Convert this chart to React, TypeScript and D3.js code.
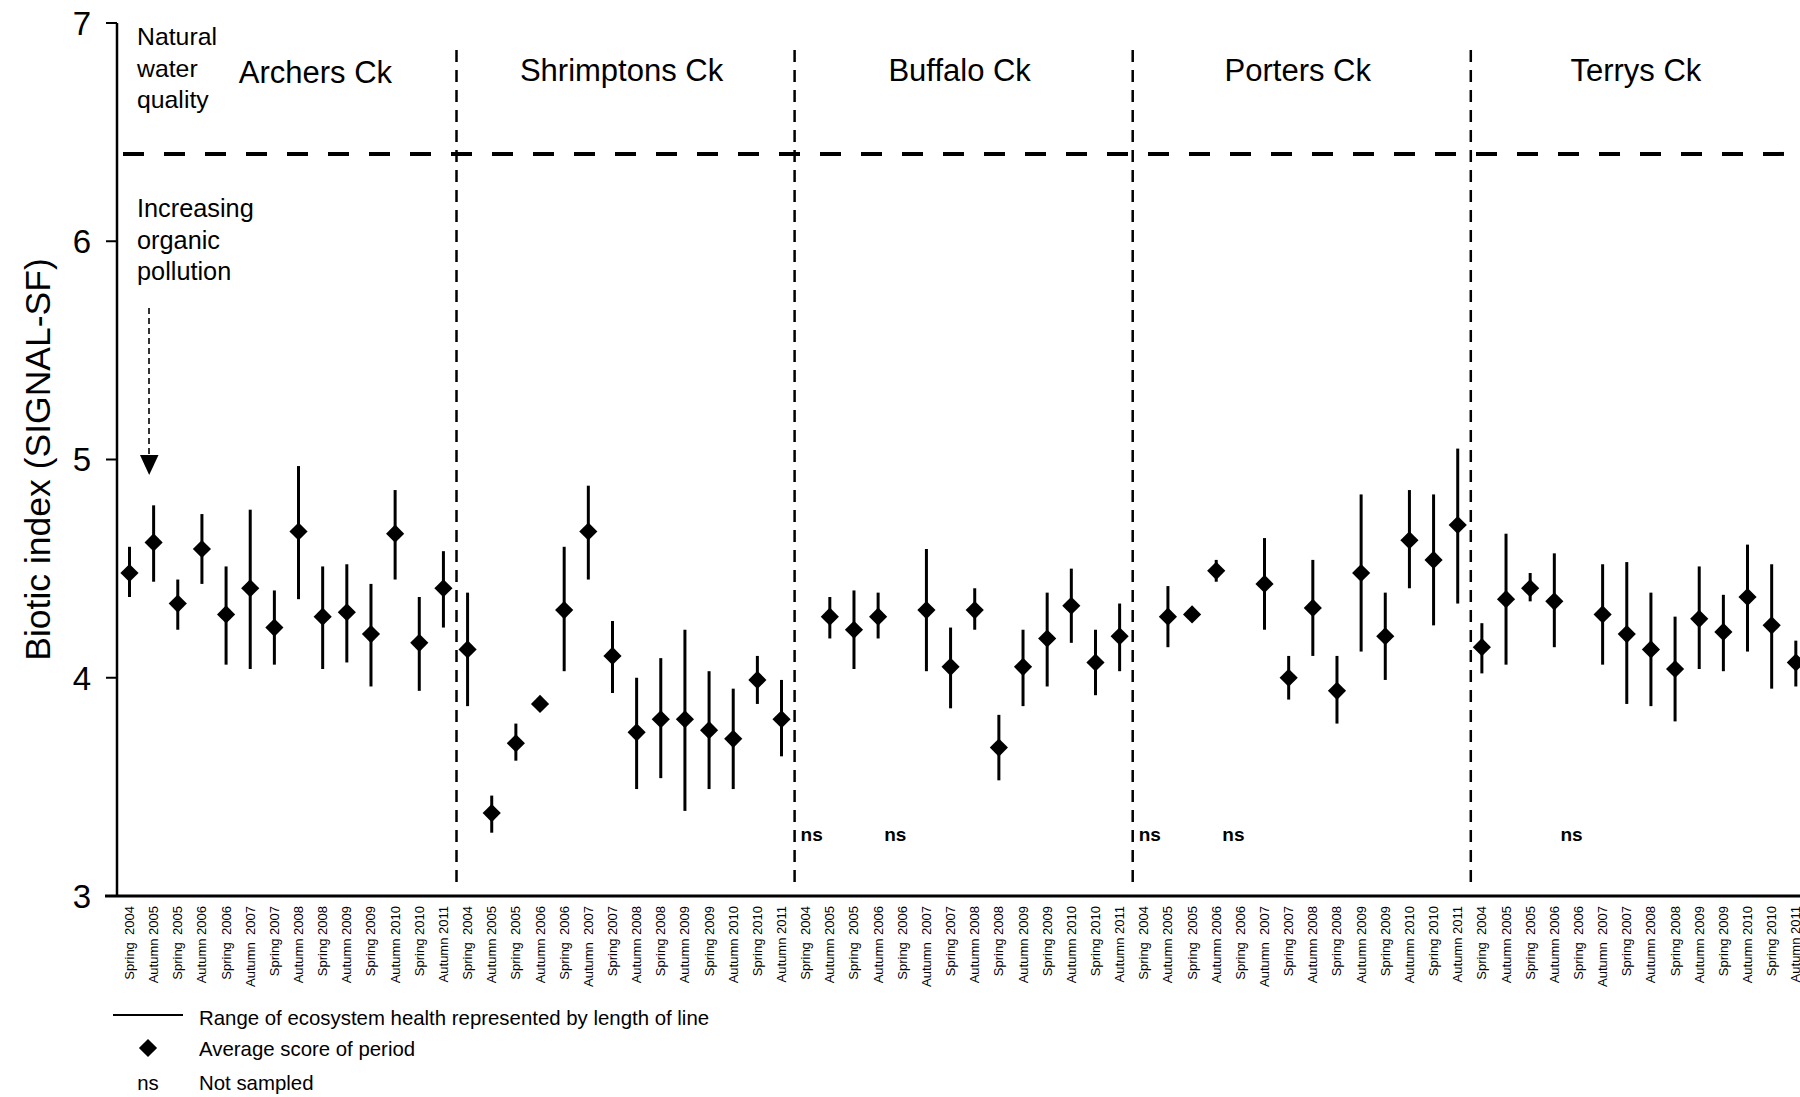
import React from "react";
import * as d3 from "d3";

const creeks = ["Archers Ck", "Shrimptons Ck", "Buffalo Ck", "Porters Ck", "Terrys Ck"];
const periods = [
  "Spring  2004", "Autumn 2005", "Spring  2005", "Autumn 2006", "Spring  2006", "Autumn  2007",
  "Spring 2007", "Autumn 2008", "Spring 2008", "Autumn 2009", "Spring 2009", "Autumn 2010",
  "Spring 2010", "Autumn 2011",
];

const archersMean = [4.48, 4.62, 4.34, 4.59, 4.29, 4.41, 4.23, 4.67, 4.28, 4.30, 4.20, 4.66, 4.16, 4.41];
const archersHigh = [4.60, 4.79, 4.45, 4.75, 4.51, 4.77, 4.40, 4.97, 4.51, 4.52, 4.43, 4.86, 4.37, 4.58];
const archersLow = [4.37, 4.44, 4.22, 4.43, 4.06, 4.04, 4.06, 4.36, 4.04, 4.07, 3.96, 4.45, 3.94, 4.23];

const shrimptonsMean = [4.13, 3.38, 3.70, 3.88, 4.31, 4.67, 4.10, 3.75, 3.81, 3.81, 3.76, 3.72, 3.99, 3.81];
const shrimptonsHigh = [4.39, 3.46, 3.79, 3.88, 4.60, 4.88, 4.26, 4.00, 4.09, 4.22, 4.03, 3.95, 4.10, 3.99];
const shrimptonsLow = [3.87, 3.29, 3.62, 3.88, 4.03, 4.45, 3.93, 3.49, 3.54, 3.39, 3.49, 3.49, 3.88, 3.64];

const buffaloMean = [null, 4.28, 4.22, 4.28, null, 4.31, 4.05, 4.31, 3.68, 4.05, 4.18, 4.33, 4.07, 4.19];
const buffaloHigh = [null, 4.37, 4.40, 4.39, null, 4.59, 4.23, 4.41, 3.83, 4.22, 4.39, 4.50, 4.22, 4.34];
const buffaloLow = [null, 4.18, 4.04, 4.18, null, 4.03, 3.86, 4.22, 3.53, 3.87, 3.96, 4.16, 3.92, 4.03];

const portersMean = [null, 4.28, 4.29, 4.49, null, 4.43, 4.00, 4.32, 3.94, 4.48, 4.19, 4.63, 4.54, 4.70];
const portersHigh = [null, 4.42, 4.29, 4.54, null, 4.64, 4.10, 4.54, 4.10, 4.84, 4.39, 4.86, 4.84, 5.05];
const portersLow = [null, 4.14, 4.29, 4.44, null, 4.22, 3.90, 4.10, 3.79, 4.12, 3.99, 4.41, 4.24, 4.34];

const terrysMean = [4.14, 4.36, 4.41, 4.35, null, 4.29, 4.20, 4.13, 4.04, 4.27, 4.21, 4.37, 4.24, 4.07];
const terrysHigh = [4.25, 4.66, 4.48, 4.57, null, 4.52, 4.53, 4.39, 4.28, 4.51, 4.38, 4.61, 4.52, 4.17];
const terrysLow = [4.02, 4.06, 4.35, 4.14, null, 4.06, 3.88, 3.87, 3.80, 4.04, 4.03, 4.12, 3.95, 3.96];

const yTicks = [3, 4, 5, 6, 7];
const naturalThreshold = 6.4;

const means = [archersMean, shrimptonsMean, buffaloMean, portersMean, terrysMean];
const highs = [archersHigh, shrimptonsHigh, buffaloHigh, portersHigh, terrysHigh];
const lows = [archersLow, shrimptonsLow, buffaloLow, portersLow, terrysLow];

type Pt = { slot: number; idx: number; creek: number; label: string; mean: number | null; lo: number | null; hi: number | null };
const points: Pt[] = [];
creeks.forEach((_, c) => {
  periods.forEach((p, i) => {
    points.push({ slot: c * periods.length + i, idx: i, creek: c, label: p, mean: means[c][i], lo: lows[c][i], hi: highs[c][i] });
  });
});

const FONT = "'Liberation Sans', Arial, Helvetica, sans-serif";

export default function App() {
  const W = 1800, H = 1097;
  const yAxisX = 117;
  const bandW = 24.15;
  const x = d3.scaleBand<number>()
    .domain(points.map((d) => d.slot))
    .range([117.4, 117.4 + points.length * bandW])
    .padding(0);
  const cx = (s: number) => (x(s) as number) + x.bandwidth() / 2;
  const y = d3.scaleLinear().domain([3, 7]).range([896, 23]);
  const diamond = d3.symbol().type(d3.symbolSquare).size(165)();

  const np = periods.length;
  const dividers = d3.range(1, creeks.length).map((c) => x(c * np) as number);

  return (
    <svg width={W} height={H} style={{ position: "absolute", left: 0, top: 0, background: "#fff" }} fontFamily={FONT}>
      <rect width={W} height={H} fill="#fff" />
      {/* Y axis */}
      <line x1={yAxisX} x2={yAxisX} y1={y(7)} y2={y(3)} stroke="#000" strokeWidth={2.5} />
      {yTicks.map((t) => (
        <g key={t}>
          <line x1={yAxisX - 11} x2={yAxisX} y1={y(t)} y2={y(t)} stroke="#000" strokeWidth={2} />
          <text x={91} y={y(t)} dy="0.36em" textAnchor="end" fontSize={33} fill="#000">{t}</text>
        </g>
      ))}
      <text transform={`translate(50, ${(y(3) + y(7)) / 2}) rotate(-90)`} x={0} y={0} textAnchor="middle" fontSize={35.5} fill="#000">
        Biotic index (SIGNAL-SF)
      </text>
      {/* X axis */}
      <line x1={105} x2={W} y1={y(3)} y2={y(3)} stroke="#000" strokeWidth={3} />
      {points.map((d) => (
        <text key={"l" + d.slot} transform={`translate(${cx(d.slot)}, 906) rotate(-90)`} textAnchor="end" dominantBaseline="central" fontSize={13} style={{ whiteSpace: "pre" }} fill="#000">
          {d.label}
        </text>
      ))}
      {/* threshold line */}
      <line x1={123} x2={W} y1={y(naturalThreshold)} y2={y(naturalThreshold)} stroke="#000" strokeWidth={4} strokeDasharray="21 20" />
      {/* dividers */}
      {dividers.map((dx, i) => (
        <line key={"d" + i} x1={dx + 1} x2={dx + 1} y1={50} y2={882} stroke="#000" strokeWidth={2.5} strokeDasharray="12 8" />
      ))}
      {/* creek titles */}
      {creeks.map((c, i) => {
        const mid = (cx(i * np) + cx(i * np + np - 1)) / 2;
        return (
          <text key={c} x={mid + (i === 0 ? 29 : -3)} y={i === 0 ? 83 : 81} textAnchor="middle" fontSize={31} fill="#000">{c}</text>
        );
      })}
      {/* annotations */}
      <text x={137} fontSize={24.8} fill="#000">
        <tspan x={137} y={45}>Natural</tspan>
        <tspan x={137} y={77}>water</tspan>
        <tspan x={137} y={108}>quality</tspan>
      </text>
      <text x={137} fontSize={25.3} fill="#000">
        <tspan x={137} y={217}>Increasing</tspan>
        <tspan x={137} y={248.5}>organic</tspan>
        <tspan x={137} y={280}>pollution</tspan>
      </text>
      <line x1={149} x2={149} y1={308} y2={456} stroke="#000" strokeWidth={1.6} strokeDasharray="6 4" />
      <path d="M140,455 L158.5,455 L149.2,475 Z" fill="#000" />
      {/* error bars */}
      {points.filter((d) => d.mean !== null && d.lo !== null && d.hi !== null && (d.hi as number) > (d.lo as number)).map((d) => (
        <line key={"e" + d.slot} x1={cx(d.slot)} x2={cx(d.slot)} y1={y(d.hi as number)} y2={y(d.lo as number)} stroke="#000" strokeWidth={3} />
      ))}
      {/* means */}
      {points.filter((d) => d.mean !== null).map((d) => (
        <path key={"m" + d.slot} d={diamond as string} transform={`translate(${cx(d.slot)}, ${y(d.mean as number)}) rotate(45)`} fill="#000" />
      ))}
      {/* not sampled */}
      {points.filter((d) => d.mean === null).map((d) => (
        <text key={"ns" + d.slot} x={cx(d.slot) + (d.idx === 0 ? 6 : -7)} y={841} textAnchor="middle" fontSize={19} fontWeight="bold" fill="#000">ns</text>
      ))}
      {/* legend */}
      <line x1={113} x2={183} y1={1015} y2={1015} stroke="#000" strokeWidth={2} />
      <text x={199} y={1025} fontSize={20.4} fill="#000">Range of ecosystem health represented by length of line</text>
      <path d={diamond as string} transform="translate(148, 1048) rotate(45)" fill="#000" />
      <text x={199} y={1056} fontSize={20.4} fill="#000">Average score of period</text>
      <text x={148} y={1090} textAnchor="middle" fontSize={20.4} fill="#000">ns</text>
      <text x={199} y={1090} fontSize={20.4} fill="#000">Not sampled</text>
    </svg>
  );
}
